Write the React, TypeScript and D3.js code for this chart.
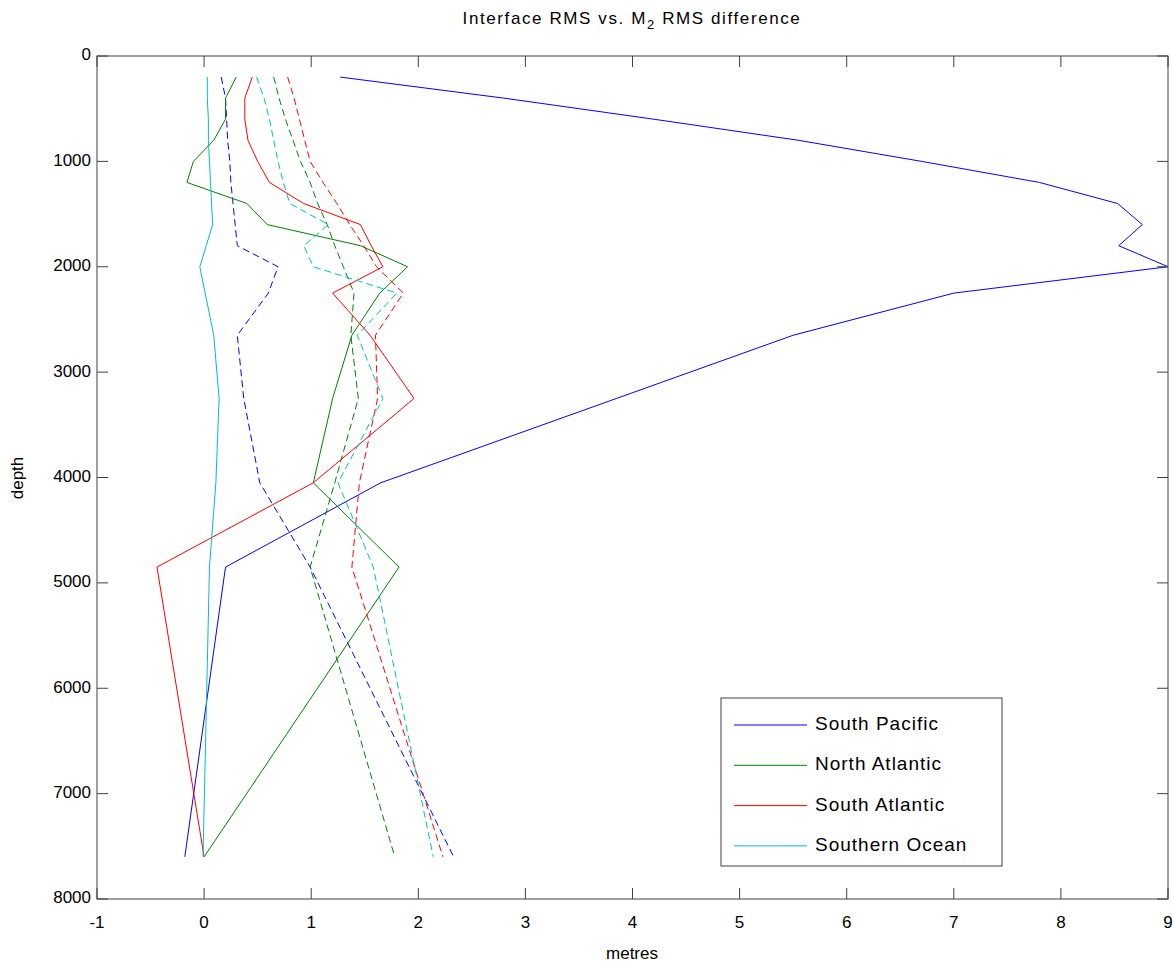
import React from "react";
import * as d3 from "d3";

const depths = [200, 400, 600, 800, 1000, 1200, 1400, 1600, 1800, 2000, 2250, 2650, 3250, 4050, 4850, 7600];

const southPacific = [1.27, 2.8, 4.2, 5.55, 6.7, 7.8, 8.53, 8.76, 8.54, 9.0, 7.0, 5.5, 3.85, 1.65, 0.2, -0.18];
const southPacificM2 = [0.16, 0.2, 0.21, 0.22, 0.24, 0.25, 0.27, 0.29, 0.31, 0.69, 0.6, 0.31, 0.37, 0.52, 0.99, 2.33];
const northAtlantic = [0.3, 0.2, 0.2, 0.09, -0.1, -0.16, 0.4, 0.59, 1.46, 1.9, 1.64, 1.38, 1.2, 1.02, 1.82, 0.0];
const northAtlanticM2 = [0.65, 0.7, 0.76, 0.83, 0.9, 0.99, 1.06, 1.15, 1.22, 1.3, 1.4, 1.37, 1.44, 1.22, 0.99, 1.78];
const southAtlantic = [0.45, 0.38, 0.38, 0.41, 0.5, 0.61, 0.93, 1.46, 1.56, 1.67, 1.2, 1.55, 1.96, 1.02, -0.44, 0.0];
const southAtlanticM2 = [0.78, 0.84, 0.89, 0.94, 0.99, 1.11, 1.24, 1.36, 1.49, 1.61, 1.86, 1.6, 1.62, 1.45, 1.38, 2.23];
const southernOcean = [0.03, 0.03, 0.04, 0.04, 0.05, 0.06, 0.07, 0.08, 0.02, -0.04, 0.01, 0.09, 0.14, 0.11, 0.05, -0.01];
const southernOceanM2 = [0.49, 0.56, 0.61, 0.65, 0.69, 0.74, 0.8, 1.16, 0.93, 1.02, 1.8, 1.43, 1.67, 1.25, 1.58, 2.14];

const xTicks = [-1, 0, 1, 2, 3, 4, 5, 6, 7, 8, 9];
const yTicks = [0, 1000, 2000, 3000, 4000, 5000, 6000, 7000, 8000];

const legendNames = ["South Pacific", "North Atlantic", "South Atlantic", "Southern Ocean"];
const colors = ["#0000ff", "#008000", "#ff0000", "#00bfbf"];

const series = [
  { values: southPacific, color: colors[0], dashed: false },
  { values: southPacificM2, color: colors[0], dashed: true },
  { values: northAtlantic, color: colors[1], dashed: false },
  { values: northAtlanticM2, color: colors[1], dashed: true },
  { values: southAtlantic, color: colors[2], dashed: false },
  { values: southAtlanticM2, color: colors[2], dashed: true },
  { values: southernOcean, color: colors[3], dashed: false },
  { values: southernOceanM2, color: colors[3], dashed: true },
];

export default function App() {
  const W = 1173, H = 965;
  const L = 97, R = 1168, T = 56, B = 899;
  const x = d3.scaleLinear().domain([-1, 9]).range([L, R]);
  const y = d3.scaleLinear().domain([0, 8000]).range([T, B]);
  const line = d3.line<[number, number]>().x(d => x(d[0])).y(d => y(d[1]));
  const font = "'Liberation Sans', Arial, Helvetica, sans-serif";
  const axisColor = "#404040";
  const tickLen = 11;

  return (
    <svg width={W} height={H} style={{ position: "absolute", left: 0, top: 0, background: "#fff" }} fontFamily={font}>
      <rect x={0} y={0} width={W} height={H} fill="#fff" />
      {series.map((s, i) => (
        <path key={i}
          d={line(s.values.map((v, j) => [v, depths[j]] as [number, number])) || ""}
          fill="none" stroke={s.color} strokeWidth={1}
          strokeDasharray={s.dashed ? "7,4" : undefined} />
      ))}
      <rect x={L} y={T} width={R - L} height={B - T} fill="none" stroke={axisColor} strokeWidth={1} />
      {xTicks.map(t => (
        <g key={"x" + t}>
          <line x1={x(t)} x2={x(t)} y1={B} y2={B - tickLen} stroke={axisColor} />
          <line x1={x(t)} x2={x(t)} y1={T} y2={T + tickLen} stroke={axisColor} />
          <text x={x(t)} y={924} textAnchor="middle" dominantBaseline="middle" fontSize={17} fill="#000">{t}</text>
        </g>
      ))}
      {yTicks.map(t => (
        <g key={"y" + t}>
          <line x1={L} x2={L + tickLen} y1={y(t)} y2={y(t)} stroke={axisColor} />
          <line x1={R} x2={R - tickLen} y1={y(t)} y2={y(t)} stroke={axisColor} />
          <text x={91} y={y(t)} textAnchor="end" dominantBaseline="middle" fontSize={17} fill="#000">{t}</text>
        </g>
      ))}
      <text x={632} y={955} textAnchor="middle" dominantBaseline="middle" fontSize={17} fill="#000">metres</text>
      <text transform="translate(19,478) rotate(-90)" textAnchor="middle" dominantBaseline="middle" fontSize={17} fill="#000">depth</text>
      <text x={632} y={24} textAnchor="middle" fontSize={17} letterSpacing={1.6} fill="#000">
        Interface RMS vs. M<tspan dy={5} fontSize={13}>2</tspan><tspan dy={-5}> RMS difference</tspan>
      </text>
      <g>
        <rect x={721} y={698} width={281} height={168} fill="#fff" stroke={axisColor} strokeWidth={1} />
        {legendNames.map((n, i) => {
          const ly = 725 + i * 40.3;
          return (
            <g key={n}>
              <line x1={734} x2={807} y1={ly} y2={ly} stroke={colors[i]} strokeWidth={1} />
              <text x={815} y={ly} dominantBaseline="middle" fontSize={19} letterSpacing={1} fill="#000">{n}</text>
            </g>
          );
        })}
      </g>
    </svg>
  );
}
